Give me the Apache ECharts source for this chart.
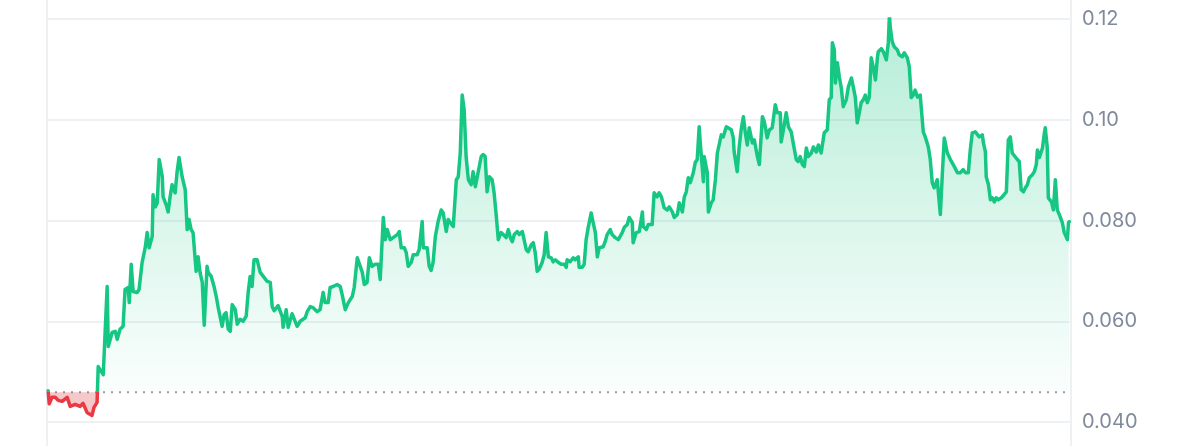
<!DOCTYPE html>
<html>
<head>
<meta charset="utf-8">
<script src="https://cdn.jsdelivr.net/npm/echarts@6/dist/echarts.min.js"></script>
<style>
html,body{margin:0;padding:0;background:#fff;}
#chart{width:1200px;height:446px;}
</style>
</head>
<body>
<div id="chart"></div>
<script>
// x values: days since start of the period
const days = [
0,0.4,1.4,2.5,3.6,5.0,6.8,7.9,9.7,11.4,
12.5,13.9,15.7,16.4,17.5,17.9,18.6,19.7,21.1,21.5,
22.9,24.0,24.7,25.7,26.8,27.5,28.6,29.0,29.7,30.4,
31.8,32.5,33.6,34.7,35.4,36.1,37.2,37.5,38.3,39.0,
39.7,40.8,41.1,42.2,42.9,43.6,44.3,45.4,46.1,46.8,
47.9,49.0,49.7,50.4,51.1,51.8,52.9,53.6,54.3,55.1,
55.8,56.8,57.2,58.3,59.3,60.1,60.8,61.5,62.2,62.9,
63.6,64.4,65.1,65.8,66.9,67.6,68.6,69.7,70.8,71.5,
72.2,72.9,73.6,74.7,75.8,76.9,78.3,79.4,80.1,80.8,
82.2,83.7,84.0,85.1,85.8,87.2,87.9,89.0,90.1,90.8,
91.9,92.6,93.7,94.7,96.2,97.2,98.3,99.0,100.1,100.8,
101.9,103.3,104.4,105.1,106.2,107.3,108.7,109.4,110.5,111.2,
112.3,113.0,114.0,114.8,115.8,116.9,118.0,118.7,119.8,120.5,
121.2,122.3,123.3,124.8,125.5,126.2,127.3,128.0,128.7,129.8,
130.5,131.9,132.6,133.7,134.1,135.5,136.2,136.9,137.6,138.4,
139.4,140.5,141.2,142.3,143.0,143.7,144.8,145.9,146.6,147.3,
148.0,148.7,149.4,150.2,151.2,151.9,152.7,153.4,154.1,154.8,
155.5,156.2,156.9,157.7,158.7,159.4,160.2,160.9,161.9,162.7,
163.7,164.5,165.2,165.9,166.6,167.7,168.4,169.5,170.2,170.9,
171.6,172.7,173.4,174.1,174.8,175.5,176.6,177.3,178.0,178.8,
179.8,180.5,181.3,182.3,183.4,184.5,185.2,185.5,186.6,187.7,
188.4,189.5,189.8,190.9,191.6,192.3,193.1,194.1,194.8,195.6,
196.3,197.0,198.4,199.1,199.8,200.9,201.6,202.7,203.8,205.2,
205.9,207.0,207.7,208.8,209.1,210.2,211.3,212.4,212.7,213.8,
214.5,215.9,216.6,217.7,218.4,219.2,220.2,221.3,222.0,223.1,
223.8,224.9,225.6,226.7,227.4,228.1,228.8,229.5,230.6,231.3,
232.0,232.7,233.1,234.2,234.5,235.6,236.0,237.0,237.7,238.5,
239.2,239.9,240.6,241.3,242.4,243.1,244.2,244.9,245.2,246.3,
247.0,247.7,248.5,249.2,249.9,250.6,251.7,252.4,253.5,254.2,
255.3,256.0,257.0,257.8,258.8,259.9,260.6,261.7,262.0,262.8,
263.8,264.6,265.6,266.3,267.4,268.1,268.8,269.6,270.3,271.0,
271.7,272.8,273.5,274.6,275.3,276.3,276.7,277.4,278.5,279.2,
279.9,280.3,281.0,281.4,282.1,282.8,283.5,284.2,285.3,286.0,
287.1,287.8,288.5,289.2,289.6,290.6,291.4,292.1,292.8,293.5,
294.2,294.9,295.7,296.4,296.7,297.8,298.5,299.6,300.3,300.7,
301.0,301.7,302.4,303.5,304.2,305.3,306.0,307.1,307.8,308.5,
309.2,309.9,310.7,311.7,312.8,313.5,314.6,315.3,316.0,316.7,
317.8,318.2,318.9,319.6,320.3,321.4,321.8,322.5,323.2,323.9,
325.0,326.0,327.1,327.8,328.9,329.6,330.3,331.4,332.1,332.8,
333.9,334.3,335.0,335.3,336.1,336.8,337.5,338.2,338.9,339.6,
340.7,341.4,342.5,343.2,343.9,344.6,345.3,346.4,347.1,347.8,
348.6,349.3,350.0,350.7,351.8,352.5,353.2,353.6,354.3,355.4,
356.1,356.4,357.1,357.5,358.6,359.3,360.0,360.7,361.4,362.5,
363.2,364.3,364.7,365.0
];
const prices = [
0.0462,0.0436,0.0449,0.0449,0.0443,0.0441,0.0449,0.0431,0.0435,0.0431,
0.0437,0.0419,0.0413,0.0429,0.0439,0.0510,0.0510,0.0494,0.0669,0.0550,
0.0578,0.0580,0.0564,0.0584,0.0590,0.0663,0.0667,0.0637,0.0713,0.0659,
0.0657,0.0663,0.0717,0.0746,0.0776,0.0746,0.0768,0.0851,0.0827,0.0835,
0.0921,0.0887,0.0847,0.0831,0.0817,0.0847,0.0871,0.0855,0.0897,0.0925,
0.0887,0.0861,0.0782,0.0802,0.0782,0.0776,0.0699,0.0728,0.0697,0.0677,
0.0592,0.0709,0.0697,0.0689,0.0669,0.0649,0.0627,0.0629,0.0590,0.0613,
0.0617,0.0584,0.0580,0.0633,0.0623,0.0594,0.0604,0.0600,0.0610,0.0657,
0.0689,0.0669,0.0722,0.0722,0.0697,0.0689,0.0679,0.0677,0.0629,0.0621,
0.0631,0.0609,0.0588,0.0623,0.0588,0.0615,0.0617,0.0590,0.0600,0.0600,
0.0607,0.0619,0.0629,0.0627,0.0619,0.0623,0.0657,0.0637,0.0637,0.0667,
0.0669,0.0673,0.0669,0.0653,0.0623,0.0637,0.0649,0.0667,0.0726,0.0728,
0.0697,0.0673,0.0677,0.0726,0.0709,0.0713,0.0713,0.0683,0.0806,0.0762,
0.0782,0.0762,0.0766,0.0772,0.0778,0.0746,0.0746,0.0736,0.0709,0.0717,
0.0732,0.0732,0.0742,0.0798,0.0746,0.0746,0.0709,0.0701,0.0717,0.0768,
0.0798,0.0821,0.0815,0.0778,0.0802,0.0796,0.0788,0.0881,0.0887,0.0934,
0.1049,0.1020,0.0927,0.0881,0.0871,0.0897,0.0867,0.0887,0.0887,0.0927,
0.0931,0.0927,0.0857,0.0887,0.0881,0.0855,0.0808,0.0762,0.0776,0.0772,
0.0766,0.0782,0.0766,0.0758,0.0772,0.0778,0.0772,0.0778,0.0776,0.0742,
0.0738,0.0752,0.0756,0.0736,0.0699,0.0703,0.0717,0.0732,0.0776,0.0728,
0.0726,0.0718,0.0722,0.0717,0.0713,0.0713,0.0707,0.0722,0.0718,0.0726,
0.0722,0.0728,0.0707,0.0707,0.0713,0.0762,0.0788,0.0815,0.0796,0.0776,
0.0728,0.0746,0.0748,0.0758,0.0772,0.0782,0.0772,0.0766,0.0762,0.0776,
0.0786,0.0792,0.0806,0.0796,0.0756,0.0776,0.0778,0.0817,0.0788,0.0782,
0.0792,0.0792,0.0855,0.0847,0.0855,0.0847,0.0825,0.0821,0.0827,0.0817,
0.0806,0.0812,0.0835,0.0817,0.0847,0.0857,0.0885,0.0875,0.0895,0.0915,
0.0921,0.0986,0.0954,0.0877,0.0927,0.0895,0.0817,0.0835,0.0841,0.0881,
0.0934,0.0936,0.0970,0.0966,0.0986,0.0984,0.0980,0.0964,0.0936,0.0897,
0.0946,0.0980,0.1006,0.0974,0.0950,0.0984,0.0954,0.0960,0.0927,0.0911,
0.1006,0.0996,0.0964,0.0980,0.0984,0.1030,0.1014,0.1014,0.0956,0.0980,
0.1014,0.0986,0.0976,0.0954,0.0921,0.0917,0.0927,0.0911,0.0907,0.0944,
0.0927,0.0934,0.0946,0.0936,0.0950,0.0934,0.0931,0.0974,0.0980,0.1040,
0.1044,0.1153,0.1139,0.1073,0.1113,0.1085,0.1063,0.1026,0.1040,0.1065,
0.1083,0.1065,0.1045,0.0994,0.1004,0.1034,0.1040,0.1049,0.1034,0.1045,
0.1123,0.1105,0.1079,0.1123,0.1135,0.1141,0.1135,0.1119,0.1153,0.1208,
0.1184,0.1155,0.1145,0.1139,0.1129,0.1125,0.1133,0.1123,0.1105,0.1044,
0.1049,0.1059,0.1045,0.1049,0.0976,0.0966,0.0946,0.0921,0.0875,0.0865,
0.0881,0.0855,0.0812,0.0891,0.0964,0.0934,0.0931,0.0921,0.0921,0.0907,
0.0895,0.0895,0.0901,0.0895,0.0895,0.0940,0.0974,0.0976,0.0974,0.0966,
0.0970,0.0954,0.0936,0.0887,0.0871,0.0841,0.0845,0.0837,0.0845,0.0841,
0.0845,0.0847,0.0857,0.0960,0.0966,0.0934,0.0931,0.0921,0.0917,0.0861,
0.0857,0.0865,0.0871,0.0885,0.0891,0.0897,0.0911,0.0940,0.0925,0.0944,
0.0974,0.0984,0.0946,0.0845,0.0837,0.0821,0.0881,0.0821,0.0812,0.0796,
0.0776,0.0762,0.0796,0.0798
];
// opening price of the period (dotted reference line)
const openPrice = 0.0459;
// y-axis tick values and their labels
const yTicks = [0.04, 0.06, 0.08, 0.10, 0.12];
const yTickLabels = ['0.040', '0.060', '0.080', '0.10', '0.12'];

const GREEN = '#16c784';
const RED = '#ea3943';

const mainData = days.map((d, i) => [d, prices[i]]);
const belowData = days.map((d, i) => [d, Math.min(prices[i], openPrice)]);

const chart = echarts.init(document.getElementById('chart'), null, {renderer: 'canvas'});

function buildOption(splitY) {
  const H = 446;
  const f = Math.max(0, Math.min(1, splitY / H));
  return {
    animation: false,
    backgroundColor: '#ffffff',
    grid: {left: 47, right: 129, top: 19, bottom: 24, containLabel: false},
    xAxis: {type: 'value', min: -0.4, max: 365.6, show: false},
    yAxis: {
      type: 'value',
      position: 'right',
      min: 0.04,
      max: 0.12,
      interval: 0.02,
      axisLine: {show: false},
      axisTick: {show: false},
      splitLine: {lineStyle: {color: '#eef1f4', width: 2}},
      axisLabel: {
        margin: 11,
        color: '#808a9d',
        fontFamily: 'Inter',
        fontSize: 20,
        formatter: function (v) {
          const idx = yTicks.findIndex(t => Math.abs(t - v) < 1e-9);
          return idx >= 0 ? yTickLabels[idx] : '';
        }
      }
    },
    graphic: [
      {type: 'line', shape: {x1: 47, y1: 0, x2: 47, y2: 446}, style: {stroke: '#eef1f4', lineWidth: 2}, z: 0},
      {type: 'line', shape: {x1: 1071, y1: 0, x2: 1071, y2: 446}, style: {stroke: '#eef1f4', lineWidth: 2}, z: 0}
    ],
    series: [
      {
        type: 'line',
        data: belowData,
        showSymbol: false,
        symbol: 'none',
        silent: true,
        lineStyle: {width: 0, opacity: 0},
        areaStyle: {origin: openPrice, color: 'rgba(234,57,67,0.28)', opacity: 1},
        z: 2
      },
      {
        type: 'line',
        data: mainData,
        showSymbol: false,
        symbol: 'none',
        silent: true,
        lineStyle: {
          width: 3.5,
          join: 'round',
          cap: 'round',
          color: {
            type: 'linear', x: 0, y: 0, x2: 0, y2: H, global: true,
            colorStops: [
              {offset: 0, color: GREEN},
              {offset: f, color: GREEN},
              {offset: f, color: RED},
              {offset: 1, color: RED}
            ]
          }
        },
        areaStyle: {
          origin: openPrice,
          opacity: 1,
          color: {
            type: 'linear', x: 0, y: 0, x2: 0, y2: 1,
            colorStops: [
              {offset: 0, color: 'rgba(22,199,132,0.32)'},
              {offset: 1, color: 'rgba(22,199,132,0.0)'}
            ]
          }
        },
        z: 3
      },
      {
        // dotted reference line at the opening price
        type: 'line',
        data: [[-0.4, openPrice], [365.6, openPrice]],
        showSymbol: false,
        symbol: 'none',
        silent: true,
        lineStyle: {color: '#999fac', width: 2, type: [2, 6]},
        z: 1
      }
    ]
  };
}

chart.setOption(buildOption(393));
const yPix = chart.convertToPixel({yAxisIndex: 0}, openPrice);
chart.setOption(buildOption(yPix));
</script>
</body>
</html>
